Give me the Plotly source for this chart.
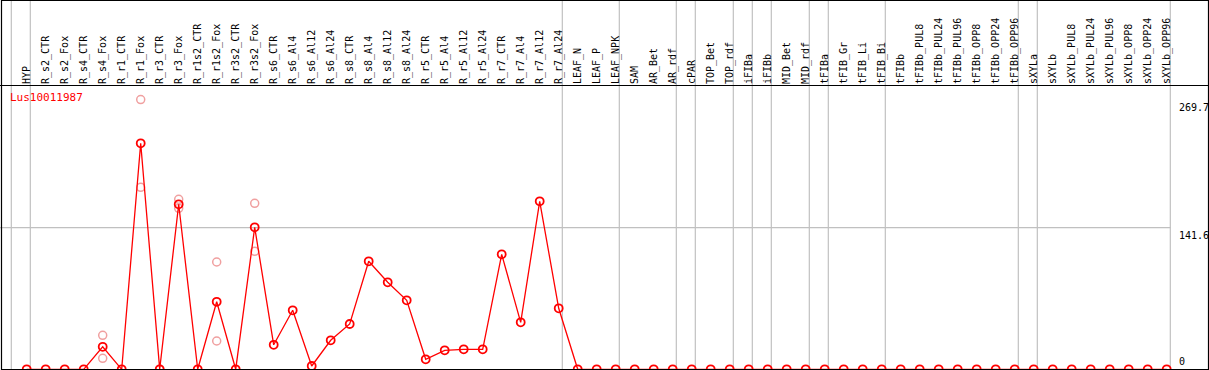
import plotly.graph_objects as go

categories = ["HYP", "R_s2_CTR", "R_s2_Fox", "R_s4_CTR", "R_s4_Fox", "R_r1_CTR", "R_r1_Fox",
              "R_r3_CTR", "R_r3_Fox", "R_r1s2_CTR", "R_r1s2_Fox", "R_r3s2_CTR", "R_r3s2_Fox",
              "R_s6_CTR", "R_s6_Al4", "R_s6_Al12", "R_s6_Al24", "R_s8_CTR", "R_s8_Al4",
              "R_s8_Al12", "R_s8_Al24", "R_r5_CTR", "R_r5_Al4", "R_r5_Al12", "R_r5_Al24",
              "R_r7_CTR", "R_r7_Al4", "R_r7_Al12", "R_r7_Al24", "LEAF_N", "LEAF_P", "LEAF_NPK",
              "SAM", "AR_Bet", "AR_rdf", "cPAR", "TOP_Bet", "TOP_rdf", "iFIBa", "iFIBb",
              "MID_Bet", "MID_rdf", "tFIBa", "tFIB_Gr", "tFIB_Li", "tFIB_Bi", "tFIBb",
              "tFIBb_PUL8", "tFIBb_PUL24", "tFIBb_PUL96", "tFIBb_OPP8", "tFIBb_OPP24",
              "tFIBb_OPP96", "sXYLa", "sXYLb", "sXYLb_PUL8", "sXYLb_PUL24", "sXYLb_PUL96",
              "sXYLb_OPP8", "sXYLb_OPP24", "sXYLb_OPP96"]

mean_values = [0, 0, 0, 0, 22.5, 0, 226, 0, 165, 0, 67.5, 0, 142,
               24.5, 59, 3.3, 29, 45.3, 108, 87, 69, 10, 19, 20, 20,
               115, 47, 168, 61] + [0] * 32

rep_categories = ["R_s4_Fox", "R_s4_Fox", "R_r1_Fox", "R_r1_Fox", "R_r3_CTR",
                  "R_r3_Fox", "R_r3_Fox", "R_r1s2_Fox", "R_r1s2_Fox",
                  "R_r3s2_Fox", "R_r3s2_Fox"]
rep_values = [34, 11, 269.7, 182, 0, 170, 161, 107.3, 28.3, 166, 118]

# group sizes -> separator lines
group_sizes = [1, 28, 3, 3, 1, 2, 1, 1, 2, 1, 3, 7, 1, 7]

y_tick_values = [269.7, 141.6, 0]
y_tick_text = ["269.7", "141.6", "0"]
title_text = "Lus10011987"

W, H = 1209, 370
px0, step = 26.7, 19.0
FONT = "DejaVu Sans Mono"

fig = go.Figure()
fig.add_trace(go.Scatter(
    x=rep_categories, y=rep_values, mode="markers",
    marker=dict(symbol="circle-open", size=8, color="#f0a0a0", line=dict(width=1.5)),
    hoverinfo="skip", showlegend=False))
fig.add_trace(go.Scatter(
    x=categories, y=mean_values, mode="lines+markers",
    line=dict(color="#ff0000", width=1.3),
    marker=dict(symbol="circle-open", size=8, color="#ff0000", line=dict(width=1.8)),
    showlegend=False))

shapes = []
b = -1
bounds = [b]
for g in group_sizes:
    b += g
    bounds.append(b)
for bi in bounds:
    shapes.append(dict(type="line", xref="x", yref="paper", x0=bi + 0.19, x1=bi + 0.19,
                       y0=0, y1=1, line=dict(color="#c0c0c0", width=1.2), layer="below"))
# horizontal grid line at middle tick
shapes.append(dict(type="line", xref="paper", yref="y", x0=0, x1=1170.7 / W,
                   y0=y_tick_values[1], y1=y_tick_values[1],
                   line=dict(color="#c0c0c0", width=1.2), layer="below"))
# frame and header separator
shapes.append(dict(type="rect", xref="paper", yref="paper", x0=1.5 / W, x1=1208.5 / W,
                   y0=0.5 / H, y1=369.5 / H, line=dict(color="black", width=1.2)))
shapes.append(dict(type="line", xref="paper", yref="paper", x0=0, x1=1,
                   y0=(H - 85.5) / H, y1=(H - 85.5) / H, line=dict(color="black", width=1.2)))

annotations = [dict(text=title_text, xref="paper", yref="paper", x=8 / W, y=(H - 97) / H,
                    xanchor="left", yanchor="middle", showarrow=False,
                    font=dict(family=FONT, size=11, color="#ff0000"))]
for v, t in zip(y_tick_values, y_tick_text):
    annotations.append(dict(text=t, xref="paper", yref="y", x=1176.5 / W, y=v,
                            xanchor="left", yanchor="bottom" if v == 0 else "top",
                            showarrow=False, font=dict(family=FONT, size=10, color="black")))

plot_top = 85.0
fig.update_layout(
    width=W, height=H, margin=dict(l=0, r=0, t=0, b=0),
    paper_bgcolor="white", plot_bgcolor="rgba(0,0,0,0)",
    shapes=shapes, annotations=annotations,
    xaxis=dict(type="category", categoryorder="array", categoryarray=categories,
               range=[-px0 / step, (W - px0) / step], side="top", tickangle=-90,
               showgrid=False, zeroline=False, showline=False, ticks="",
               tickfont=dict(family=FONT, size=10, color="black"),
               ticklabelstandoff=0, domain=[0, 1]),
    yaxis=dict(range=[-0.7, 369.3 - plot_top], domain=[0, (H - plot_top) / H],
               showgrid=False, zeroline=False, showticklabels=False, showline=False),
)
fig.write_html("out.html", config={"displayModeBar": False},
               post_script="document.body.style.margin='0';document.body.style.overflow='hidden';")
